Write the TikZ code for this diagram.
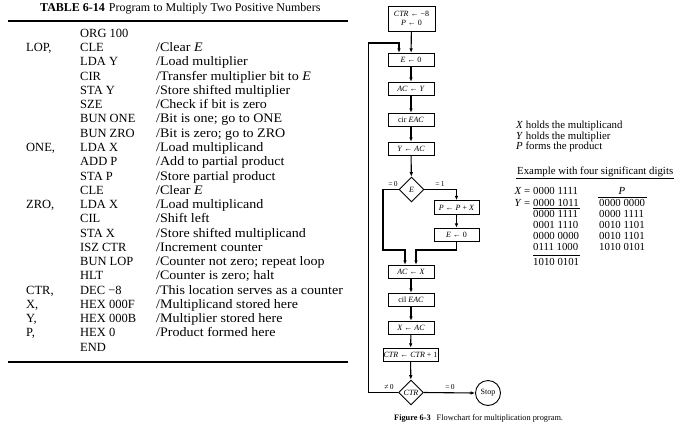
\documentclass[tikz,border=0pt]{standalone}
\usepackage{fontspec}
\setmainfont{Liberation Serif}
\newfontfamily\tabfont[FakeStretch=1.08]{Liberation Serif}
\usetikzlibrary{arrows.meta,shapes.geometric}
\newcommand\tblab[2]{\node[ti] (lab#1) at (26,{37.3+14.27*#1}) {#2};}
\newcommand\tbins[2]{\node[ti] (ins#1) at (80,{37.3+14.27*#1}) {#2};}
\newcommand\tbcom[2]{\node[tt] (com#1) at (156,{37.3+14.27*#1}) {#2};}
\begin{document}
\begin{tikzpicture}[x=1pt,y=-1pt,
  tt/.style={anchor=base west,inner sep=0pt,font=\tabfont\fontsize{13}{14}\selectfont},
  ti/.style={anchor=base west,inner sep=0pt,font=\fontsize{12.5}{14}\selectfont},
  rt/.style={anchor=base west,inner sep=0pt,font=\fontsize{10.8}{12}\selectfont},
  fbox/.style={draw,line width=0.9pt,minimum width=46pt,minimum height=13.5pt,inner sep=1pt,font=\fontsize{8}{9}\selectfont},
  fdia/.style={draw,line width=0.9pt,diamond,minimum width=25pt,minimum height=25pt,inner sep=0pt,font=\fontsize{8}{9}\selectfont},
  flow/.style={line width=1.1pt,-{Latex[length=4.5pt,width=3.6pt]}},
  lbl/.style={inner sep=0pt,font=\fontsize{7.5}{8}\selectfont},
  rule/.style={line width=1.3pt}]
\fill[white] (0,0) rectangle (698,434);
\useasboundingbox (0,0) rectangle (698,434);

% ---------- table ----------
\node[anchor=base west,inner sep=0pt,font=\fontsize{12}{14}\selectfont] (title) at (40,11.5)
  {\textbf{TABLE 6-14}\hspace{4pt}Program to Multiply Two Positive Numbers};
\coordinate (r1a) at (8,21);  \coordinate (r1b) at (348,21);
\coordinate (r2a) at (8,362); \coordinate (r2b) at (348,362);
\draw[rule] (r1a) -- (r1b);
\draw[rule] (r2a) -- (r2b);

\tbins{0}{ORG 100}
\tblab{1}{LOP,}\tbins{1}{CLE}\tbcom{1}{/Clear \textit{E}}
\tbins{2}{LDA Y}\tbcom{2}{/Load multiplier}
\tbins{3}{CIR}\tbcom{3}{/Transfer multiplier bit to \textit{E}}
\tbins{4}{STA Y}\tbcom{4}{/Store shifted multiplier}
\tbins{5}{SZE}\tbcom{5}{/Check if bit is zero}
\tbins{6}{BUN ONE}\tbcom{6}{/Bit is one; go to ONE}
\tbins{7}{BUN ZRO}\tbcom{7}{/Bit is zero; go to ZRO}
\tblab{8}{ONE,}\tbins{8}{LDA X}\tbcom{8}{/Load multiplicand}
\tbins{9}{ADD P}\tbcom{9}{/Add to partial product}
\tbins{10}{STA P}\tbcom{10}{/Store partial product}
\tbins{11}{CLE}\tbcom{11}{/Clear \textit{E}}
\tblab{12}{ZRO,}\tbins{12}{LDA X}\tbcom{12}{/Load multiplicand}
\tbins{13}{CIL}\tbcom{13}{/Shift left}
\tbins{14}{STA X}\tbcom{14}{/Store shifted multiplicand}
\tbins{15}{ISZ CTR}\tbcom{15}{/Increment counter}
\tbins{16}{BUN LOP}\tbcom{16}{/Counter not zero; repeat loop}
\tbins{17}{HLT}\tbcom{17}{/Counter is zero; halt}
\tblab{18}{CTR,}\tbins{18}{DEC −8}\tbcom{18}{/This location serves as a counter}
\tblab{19}{X,}\tbins{19}{HEX 000F}\tbcom{19}{/Multiplicand stored here}
\tblab{20}{Y,}\tbins{20}{HEX 000B}\tbcom{20}{/Multiplier stored here}
\tblab{21}{P,}\tbins{21}{HEX 0}\tbcom{21}{/Product formed here}
\tbins{22}{END}

% ---------- flowchart ----------
\node[fbox,minimum width=47pt,minimum height=25pt,align=center] (start) at (411.5,18.5)
  {\textit{CTR} ← −8\\\textit{P} ← 0};
\node[fbox] (e0)  at (411,60)  {\textit{E} ← 0};
\node[fbox] (acy) at (411,89)  {\textit{AC} ← \textit{Y}};
\node[fbox] (cir) at (411,120) {cir \textit{EAC}};
\node[fbox] (yac) at (411,149) {\textit{Y} ← \textit{AC}};
\node[fdia] (ed)  at (411.5,189.5) {\textit{E}};
\node[fbox,minimum width=45pt] (ppx) at (456.5,207.5) {\textit{P} ← \textit{P} + \textit{X}};
\node[fbox,minimum width=45pt] (e0b) at (456.5,235) {\textit{E} ← 0};
\node[fbox] (acx) at (411,272) {\textit{AC} ← \textit{X}};
\node[fbox] (cil) at (411,300) {cil \textit{EAC}};
\node[fbox] (xac) at (411,328) {\textit{X} ← \textit{AC}};
\node[fbox,minimum width=55pt,inner sep=0.5pt] (inc) at (410.5,355) {\textit{CTR} ← \textit{CTR} + 1};
\node[fdia] (cd) at (411,392.5) {\textit{CTR}};
\node[draw,line width=0.9pt,circle,minimum size=25pt,inner sep=0pt,font=\fontsize{8}{9}\selectfont] (stop) at (488,393) {Stop};

\coordinate (lpb) at (368.5,392.5);
\coordinate (lpt) at (368.5,43);
\coordinate (lpx) at (399,0);
\coordinate (jl) at (383,250);
\coordinate (jy) at (0,250);

\draw[flow] (start) -- (e0);
\draw[flow] (e0) -- (acy);
\draw[flow] (acy) -- (cir);
\draw[flow] (cir) -- (yac);
\draw[flow] (yac) -- (ed);
\draw[flow] (ed.east) -| (ppx.north);
\draw[flow] (ppx) -- (e0b);
\draw[flow] (ed.west) -| (jl) -| ([xshift=-6pt]acx.north);
\draw[flow] (e0b.south) |- ([xshift=5pt]acx.north |- jy) -- ([xshift=5pt]acx.north);
\draw[flow] (acx) -- (cil);
\draw[flow] (cil) -- (xac);
\draw[flow] (xac) -- (inc);
\draw[flow] (inc) -- (cd);
\draw[flow] (cd.east) -- (stop.west);
\draw[flow] (cd.west) -- (lpb) -- (lpt) -| (e0.north -| lpx);

\node[lbl] (l1) at (393,184) {=\,0};
\node[lbl] (l2) at (440,184) {=\,1};
\node[lbl] (l3) at (389,387) {≠\,0};
\node[lbl] (l4) at (450,387) {=\,0};

\node[anchor=base west,inner sep=0pt,font=\fontsize{8.3}{9}\selectfont] (cap) at (394,420)
  {\textbf{Figure 6-3}\hspace{6pt}Flowchart for multiplication program.};

% ---------- right notes ----------
\node[rt] (n1) at (516,128.5) {\textit{X} holds the multiplicand};
\node[rt] (n2) at (516,139) {\textit{Y} holds the multiplier};
\node[rt] (n3) at (516,149.5) {\textit{P} forms the product};
\node[rt] (ex) at (517,174.5) {Example with four significant digits};
\coordinate (exa) at (516,178.5); \coordinate (exb) at (674,178.5);
\draw[line width=1.1pt] (exa) -- (exb);

\node[rt,anchor=base east] (xeq) at (530.5,194.5) {\textit{X} =};
\node[rt,anchor=base east] (yeq) at (530.5,206) {\textit{Y} =};
\node[rt] (a0) at (533,194.5) {0000 1111};
\node[rt] (a1) at (533,206) {0000 1011};
\node[rt] (a2) at (533,217) {0000 1111};
\node[rt] (a3) at (533,228) {0001 1110};
\node[rt] (a4) at (533,239.5) {0000 0000};
\node[rt] (a5) at (533,250.5) {0111 1000};
\node[rt] (a6) at (533,265.5) {1010 0101};
\coordinate (ua) at (533,208.5); \coordinate (ub) at (580,208.5);
\coordinate (va) at (533,255); \coordinate (vb) at (580,255);
\draw[line width=0.8pt] (ua) -- (ub);
\draw[line width=0.8pt] (va) -- (vb);

\node[rt,anchor=base] (ph) at (622,194.5) {\textit{P}};
\coordinate (pa) at (598,197.5); \coordinate (pb) at (647,197.5);
\draw[line width=0.8pt] (pa) -- (pb);
\node[rt] (p1) at (599,206) {0000 0000};
\node[rt] (p2) at (599,217) {0000 1111};
\node[rt] (p3) at (599,228) {0010 1101};
\node[rt] (p4) at (599,239.5) {0010 1101};
\node[rt] (p5) at (599,250.5) {1010 0101};
\end{tikzpicture}
\end{document}
